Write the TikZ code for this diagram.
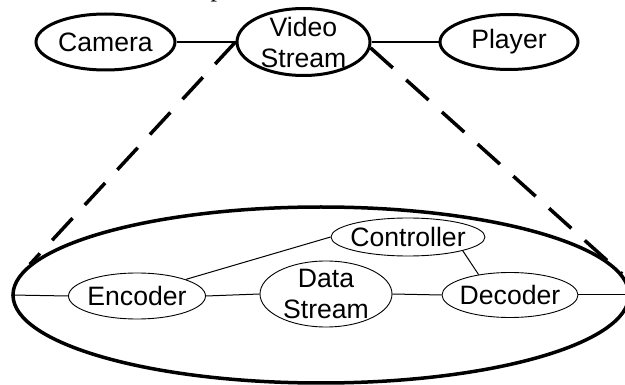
\documentclass[tikz,border=0pt]{standalone}
\usepackage{fontspec}
\setmainfont{Liberation Sans}
\newfontfamily\serifpart{Liberation Serif}
\usetikzlibrary{shapes.geometric}
\begin{document}
\begin{tikzpicture}[x=1pt,y=-1pt,
  topell/.style={draw, ellipse, line width=3pt, inner sep=0pt},
  outerell/.style={draw, ellipse, line width=3.5pt, inner sep=0pt},
  innerell/.style={draw, ellipse, line width=0.9pt, inner sep=0pt},
  lbl/.style={font=\fontsize{26.6}{31}\selectfont, align=center, inner sep=0pt},
  toplink/.style={line width=1.4pt},
  innerlink/.style={line width=1pt},
  zoomline/.style={line width=3.5pt, dash pattern=on 30pt off 18pt}]
\useasboundingbox (0,0) rectangle (625,385);
\clip (0,0) rectangle (625,385);
% clipped fragment of a text line above the picture
\node[anchor=base, font=\serifpart\fontsize{26}{30}\selectfont, inner sep=0pt] (frag) at (217,-3) {p};
% top row
\node[topell, minimum width=139pt, minimum height=56pt] (cam) at (105.5,42) {};
\node[topell, minimum width=133pt, minimum height=67pt] (vs) at (303.5,42) {};
\node[topell, minimum width=138pt, minimum height=55pt] (pl) at (509,42) {};
\node[lbl] (camt) at (cam) {Camera};
\node[lbl] (vst) at (vs) {Video\\Stream};
\node[lbl] (plt) at (pl) {Player};
% enlarged view
\node[outerell, minimum width=616pt, minimum height=176pt] (big) at (321,295) {};
\node[innerell, minimum width=137pt, minimum height=46pt] (enc) at (137,296) {};
\node[innerell, minimum width=132pt, minimum height=66pt] (ds) at (326,294) {};
\node[innerell, minimum width=136pt, minimum height=45pt] (dec) at (510,295) {};
\node[innerell, minimum width=154pt, minimum height=38pt] (ctrl) at (408,237) {};
\node[lbl] (enct) at (enc) {Encoder};
\node[lbl] (dst) at (ds) {Data\\Stream};
\node[lbl] (dect) at (dec) {Decoder};
\node[lbl] (ctrlt) at (ctrl) {Controller};
% connectors
\draw[toplink] (cam.east) -- (vs.west);
\draw[toplink] (vs.east) -- (pl.west);
\draw[innerlink] (big.west) -- (enc.west);
\draw[innerlink] (enc.east) -- (ds.west);
\draw[innerlink] (ds.east) -- (dec.west);
\draw[innerlink] (dec.east) -- (big.east);
\draw[innerlink] (enc.north east) -- (ctrl.west);
\draw[innerlink] (ctrl.south east) -- (dec.147);
% zoom lines
\draw[zoomline] (vs.west) -- (big.174);
\draw[zoomline] (vs.-5) -- (big.4);
\end{tikzpicture}
\end{document}
